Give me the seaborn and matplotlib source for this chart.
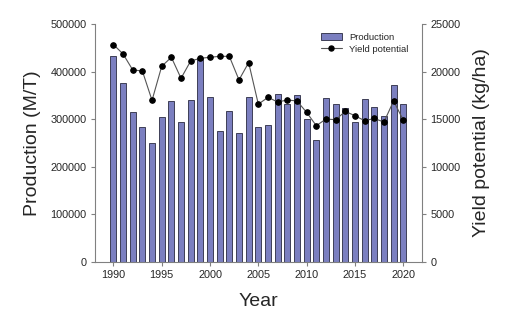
import matplotlib
matplotlib.use("Agg")
import matplotlib.pyplot as plt
import seaborn as sns
import pandas as pd
from matplotlib.patches import Patch
from matplotlib.lines import Line2D

years = list(range(1990, 2021))
production = [433000, 377000, 316000, 283000, 249000, 305000, 338000, 294000, 340000, 429000,
              347000, 275000, 318000, 271000, 347000, 284000, 288000, 354000, 331000, 351000,
              300000, 257000, 345000, 332000, 324000, 295000, 343000, 326000, 307000, 371000,
              332000]
yield_potential = [22850, 21860, 20180, 20070, 16980, 20560, 21510, 19300, 21120, 21400,
                   21510, 21610, 21610, 19130, 20950, 16580, 17300, 16810, 17020, 16920,
                   15720, 14320, 15020, 14950, 15820, 15370, 14840, 15080, 14700, 16920,
                   14910]

df = pd.DataFrame({"Year": years, "Production": production, "Yield": yield_potential})

sns.set_style("ticks")
plt.rcParams["font.family"] = ["Liberation Sans", "DejaVu Sans"]

fig = plt.figure(figsize=(5.25, 3.21), dpi=100)
ax = fig.add_axes([0.181, 0.184, 0.623, 0.741])
bar_color = "#7b7fc0"
sns.barplot(data=df, x="Year", y="Production", native_scale=True, width=0.62,
            color=bar_color, saturation=1, edgecolor="#2a2a40", linewidth=0.6, ax=ax)
ax.set_xlim(1988.1, 2021.95)
ax.set_ylim(0, 500000)
ax.set_xticks(range(1990, 2021, 5))
ax.set_yticks(range(0, 500001, 100000))
ax.set_xlabel("Year", fontsize=14, labelpad=9)
ax.set_ylabel("Production (M/T)", fontsize=14, labelpad=7)
ax.tick_params(labelsize=7.8, length=3, color="#808080", width=0.8, pad=3)
for s in ["left", "bottom"]:
    ax.spines[s].set_color("#808080")
ax.spines["top"].set_visible(False)
ax.spines["right"].set_visible(False)

ax2 = ax.twinx()
sns.lineplot(data=df, x="Year", y="Yield", marker="o", color="#555555", linewidth=0.8,
             markersize=4, markerfacecolor="black", markeredgecolor="black", ax=ax2)
ax2.set_ylim(0, 25000)
ax2.set_yticks(range(0, 25001, 5000))
ax2.set_ylabel("Yield potential (kg/ha)", fontsize=14, labelpad=9)
ax2.tick_params(labelsize=7.8, length=3, color="#808080", width=0.8, pad=3)
ax2.spines["right"].set_color("#808080")
ax2.spines["top"].set_visible(False)
ax2.spines["left"].set_visible(False)
ax2.spines["bottom"].set_visible(False)

handles = [Patch(facecolor=bar_color, edgecolor="#2a2a40", linewidth=0.6),
           Line2D([0], [0], color="#555555", lw=0.8, marker="o", markersize=3.6,
                  markerfacecolor="black", markeredgecolor="black")]
ax2.legend(handles, ["Production", "Yield potential"], loc="upper right",
           bbox_to_anchor=(0.985, 1.0), frameon=False, fontsize=6.8,
           handlelength=2.2, handleheight=0.9, labelspacing=0.3)

fig.savefig("out.png", dpi=100)
